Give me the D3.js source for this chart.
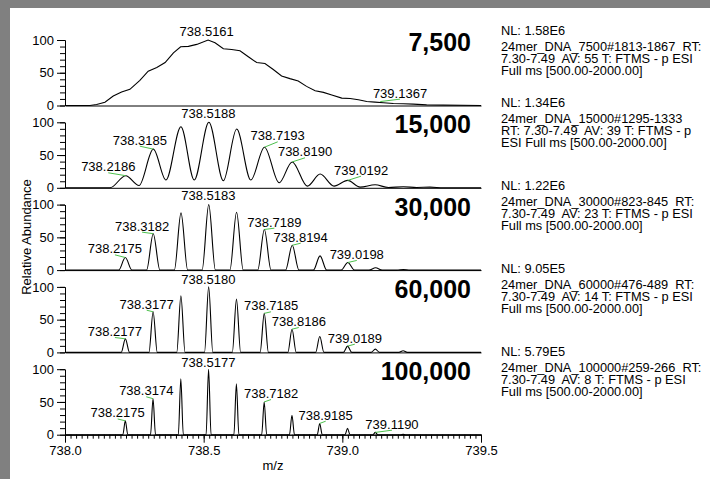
<!DOCTYPE html>
<html>
<head>
<meta charset="utf-8">
<title>24mer DNA - resolution series</title>
<script src="https://cdn.jsdelivr.net/npm/d3@7"></script>
<style>
	body { margin: 0; background: #fff; }
	svg { display: block; }
	text { font-family: "Liberation Sans", Arial, Helvetica, sans-serif; fill: #000; }
</style>
</head>
<body>
<script>
// resolution written on the right of every panel
const resolutions = ["7,500", "15,000", "30,000", "60,000", "100,000"];

// scan header text next to every panel
const headers = [
	["NL: 1.58E6", "24mer_DNA_7500#1813-1867  RT:", "7.30-7.49  AV: 55 T: FTMS - p ESI", "Full ms [500.00-2000.00]"],
	["NL: 1.34E6", "24mer_DNA_15000#1295-1333", "RT: 7.30-7.49  AV: 39 T: FTMS - p", "ESI Full ms [500.00-2000.00]"],
	["NL: 1.22E6", "24mer_DNA_30000#823-845  RT:", "7.30-7.49  AV: 23 T: FTMS - p ESI", "Full ms [500.00-2000.00]"],
	["NL: 9.05E5", "24mer_DNA_60000#476-489  RT:", "7.30-7.49  AV: 14 T: FTMS - p ESI", "Full ms [500.00-2000.00]"],
	["NL: 5.79E5", "24mer_DNA_100000#259-266  RT:", "7.30-7.49  AV: 8 T: FTMS - p ESI", "Full ms [500.00-2000.00]"]
];

// axis ticks
const mzTicks = [738.0, 738.5, 739.0, 739.5];
const abundanceTicks = [0, 50, 100];

// 7,500: profile points [m/z, relative abundance]
const profile7500 = [
	[738.0, 0], [738.09, 0], [738.114, 1.5], [738.144, 5.1], [738.174, 14.4], [738.204, 20.5],
	[738.234, 24.6], [738.27, 38.5], [738.3, 52.3], [738.331, 58.0], [738.361, 65.6], [738.391, 80.5],
	[738.417, 89.7], [738.445, 90.3], [738.475, 93.3], [738.516, 100], [738.541, 95.9], [738.571, 86.7],
	[738.601, 85.6], [738.631, 83.6], [738.661, 74.4], [738.691, 65.6], [738.721, 64.1], [738.751, 54.9],
	[738.781, 45.1], [738.811, 41.0], [738.841, 37.4], [738.871, 29.2], [738.902, 22.6], [738.932, 20.0],
	[738.962, 15.9], [738.998, 11.3], [739.028, 10.8], [739.058, 8.7], [739.088, 6.2], [739.118, 5.1],
	[739.148, 4.1], [739.184, 3.1], [739.22, 2.6], [739.256, 2.1], [739.304, 1.0], [739.364, 0.5], [739.5, 0]
];

// 15,000: apexes and valleys of the partly resolved isotopes
const profile15000 = [
	[738.0, 0], [738.162, 0], [738.219, 18.5], [738.267, 3.6], [738.3185, 59], [738.364, 11.8],
	[738.418, 93.3], [738.466, 11.8], [738.5188, 100], [738.571, 10.8], [738.619, 89.7], [738.67, 11.8],
	[738.7193, 62], [738.772, 7.7], [738.819, 39.5], [738.874, 2.6], [738.92, 21], [738.97, 2.6],
	[739.0192, 11.3], [739.064, 1], [739.118, 4.6], [739.166, 0.5], [739.22, 1.5], [739.268, 0.5],
	[739.316, 1], [739.364, 0], [739.5, 0]
];

// 30,000 / 60,000 / 100,000: resolved isotope peaks [m/z, relative abundance]
const peaks30000 = [
	[738.2175, 19.2], [738.3182, 55.6], [738.4183, 87.4], [738.5183, 100], [738.6186, 88.4], [738.7189, 62],
	[738.8194, 37.9], [738.9196, 21.7], [739.0198, 11.6], [739.1199, 3.5], [739.2201, 1]
];
const peaks60000 = [
	[738.2177, 20.7], [738.3177, 62], [738.4179, 86.4], [738.518, 100], [738.6183, 81.3], [738.7185, 59.6],
	[738.8186, 35.4], [738.9187, 24.2], [739.0189, 9.6], [739.119, 5], [739.2192, 2.5]
];
const peaks100000 = [
	[738.2175, 21.2], [738.3174, 55], [738.4176, 85.4], [738.5177, 100], [738.618, 77.8], [738.7182, 50],
	[738.8184, 29.8], [738.9185, 17.2], [739.0187, 9.6], [739.119, 3.5], [739.2192, 0.5]
];

// half of the peak foot width in m/z, read for each resolution
const peakHalfWidths = [0, 0, 0.024, 0.015, 0.009];

// peak labels: [text, apex abundance, label m/z, label abundance]
const labels7500 = [["738.5161", 100, 738.511, 106], ["739.1367", 6, 739.208, 12]];
const labels15000 = [
	["738.2186", 18.5, 738.156, 25.2], ["738.3185", 59, 738.27, 65.8], ["738.5188", 100, 738.517, 106.6],
	["738.7193", 62, 738.767, 72.5], ["738.8190", 39.5, 738.8655, 48.1], ["739.0192", 11.3, 739.0675, 20]
];
const labels30000 = [
	["738.2175", 19.2, 738.18, 25.6], ["738.3182", 55.6, 738.278, 60.2], ["738.5183", 100, 738.517, 107],
	["738.7189", 62, 738.755, 66.3], ["738.8194", 37.9, 738.85, 43.4], ["739.0198", 11.6, 739.052, 17]
];
const labels60000 = [
	["738.2177", 20.7, 738.18, 25], ["738.3177", 62, 738.2945, 66.7], ["738.5180", 100, 738.517, 104.9],
	["738.7185", 59.6, 738.743, 64.3], ["738.8186", 35.4, 738.843, 40.3], ["739.0189", 9.6, 739.045, 14.8]
];
const labels100000 = [
	["738.2175", 21.2, 738.19, 26.3], ["738.3174", 55, 738.293, 60.2], ["738.5177", 100, 738.517, 104],
	["738.7182", 50, 738.743, 56], ["738.9185", 17.2, 738.94, 22.9], ["739.1190", 3.5, 739.179, 9.2]
];

const render = () => {
	const w = 710;
	const h = 479;

	// panel geometry
	const panelTop = 40;
	const panelStep = 82.3;
	const panelH = 65.5;
	const headerBase = [34.5, 106.5, 189.5, 272.5, 355.5];

	// turning a list of peaks into a profile trace
	const peakTrace = (peaks, hw) => [[738, 0]]
		.concat(peaks.flatMap(([mz, ab]) => [[mz - hw, 0], [mz, ab], [mz + hw, 0]]))
		.concat([[739.5, 0]]);

	const panels = [
		{ trace: profile7500, curve: d3.curveLinear, labels: labels7500 },
		{ trace: profile15000, curve: d3.curveMonotoneX, labels: labels15000 },
		{ trace: peakTrace(peaks30000, peakHalfWidths[2]), curve: d3.curveMonotoneX, labels: labels30000 },
		{ trace: peakTrace(peaks60000, peakHalfWidths[3]), curve: d3.curveMonotoneX, labels: labels60000 },
		{ trace: peakTrace(peaks100000, peakHalfWidths[4]), curve: d3.curveMonotoneX, labels: labels100000 }
	];

	const svg = d3.select("body").append("svg").attr("width", w).attr("height", h);

	// grey window frame on the top and left
	svg.append("rect").attr("width", w).attr("height", h).attr("fill", "#808080");
	svg.append("rect").attr("x", 10).attr("y", 8).attr("width", w - 10).attr("height", h - 8).attr("fill", "#fff");

	const xScale = d3.scaleLinear().domain([738, 739.5]).range([65, 481]);

	const styleAxis = (g, size) => {
		g.select(".domain").attr("stroke", "#000");
		g.selectAll(".tick line").attr("stroke", "#000");
		g.selectAll(".tick text").attr("fill", "#000").style("font-size", size).attr("font-family", null);
	};

	panels.forEach((p, i) => {
		const top = panelTop + i * panelStep;
		const yScale = d3.scaleLinear().domain([0, 100]).range([top + panelH, top]);
		const g = svg.append("g");

		// minor y ticks every 10 %
		g.append("g")
			.attr("transform", "translate(" + xScale(738) + ",0)")
			.call(d3.axisLeft(yScale).tickValues(d3.range(0, 101, 10)).tickSize(5).tickSizeOuter(0).tickFormat(() => ""))
			.call((a) => styleAxis(a, "13px"));

		// major y ticks
		g.append("g")
			.attr("transform", "translate(" + xScale(738) + ",0)")
			.call(d3.axisLeft(yScale).tickValues(abundanceTicks).tickSize(8).tickSizeOuter(0).tickPadding(3))
			.call((a) => styleAxis(a, "13px"));

		if (i < panels.length - 1) {
			// plain baseline
			g.append("g")
				.attr("transform", "translate(0," + yScale(0) + ")")
				.call(d3.axisBottom(xScale).tickValues([]).tickSizeOuter(0))
				.call((a) => styleAxis(a, "13px"));
		} else {
			// minor m/z ticks every 0.02
			g.append("g")
				.attr("transform", "translate(0," + yScale(0) + ")")
				.call(d3.axisBottom(xScale).tickValues(d3.range(0, 76).map((k) => 738 + k * 0.02)).tickSize(4).tickSizeOuter(0).tickFormat(() => ""))
				.call((a) => styleAxis(a, "13px"));
			g.append("g")
				.attr("transform", "translate(0," + yScale(0) + ")")
				.call(d3.axisBottom(xScale).tickValues(mzTicks).tickSize(8).tickSizeOuter(0).tickPadding(3).tickFormat(d3.format(".1f")))
				.call((a) => styleAxis(a, "13px"));
		}

		// the spectrum
		const line = d3.line().x((d) => xScale(d[0])).y((d) => yScale(d[1])).curve(p.curve);
		g.append("path")
			.datum(p.trace)
			.attr("d", line)
			.attr("fill", "none")
			.attr("stroke", "#000")
			.attr("stroke-width", 1.1);

		// green leader lines from the label to its peak
		g.selectAll(".leader")
			.data(p.labels.filter((d) => Math.abs(xScale(d[2]) - xScale(+d[0])) > 4))
			.enter()
			.append("line")
			.attr("x1", (d) => xScale(d[2]))
			.attr("y1", (d) => yScale(d[3]) + 1.5)
			.attr("x2", (d) => xScale(+d[0]))
			.attr("y2", (d) => yScale(d[1]))
			.attr("stroke", "#4cc04c")
			.attr("stroke-width", 1);

		// peak labels
		g.selectAll(".peak-label")
			.data(p.labels)
			.enter()
			.append("text")
			.attr("x", (d) => xScale(d[2]))
			.attr("y", (d) => yScale(d[3]))
			.attr("text-anchor", "middle")
			.style("font-size", "13px")
			.text((d) => d[0]);

		// resolution
		g.append("text")
			.attr("x", xScale(739.5) - 10)
			.attr("y", top + 11)
			.attr("text-anchor", "end")
			.style("font-size", "25px")
			.style("font-weight", "bold")
			.text(resolutions[i]);

		// scan header
		const hdr = g.append("text").attr("x", 501).style("font-size", "12.8px").style("white-space", "pre");
		headers[i].forEach((t, k) => {
			hdr.append("tspan")
				.attr("x", 501)
				.attr("y", headerBase[i] + (k === 0 ? 0 : 4 + k * 12))
				.text(t);
		});
	});

	// axis titles
	svg.append("text")
		.attr("transform", "translate(31,237) rotate(-90)")
		.attr("text-anchor", "middle")
		.style("font-size", "13px")
		.text("Relative Abundance");

	svg.append("text")
		.attr("x", 273)
		.attr("y", 470)
		.attr("text-anchor", "middle")
		.style("font-size", "13px")
		.text("m/z");
};

render();
</script>
</body>
</html>
